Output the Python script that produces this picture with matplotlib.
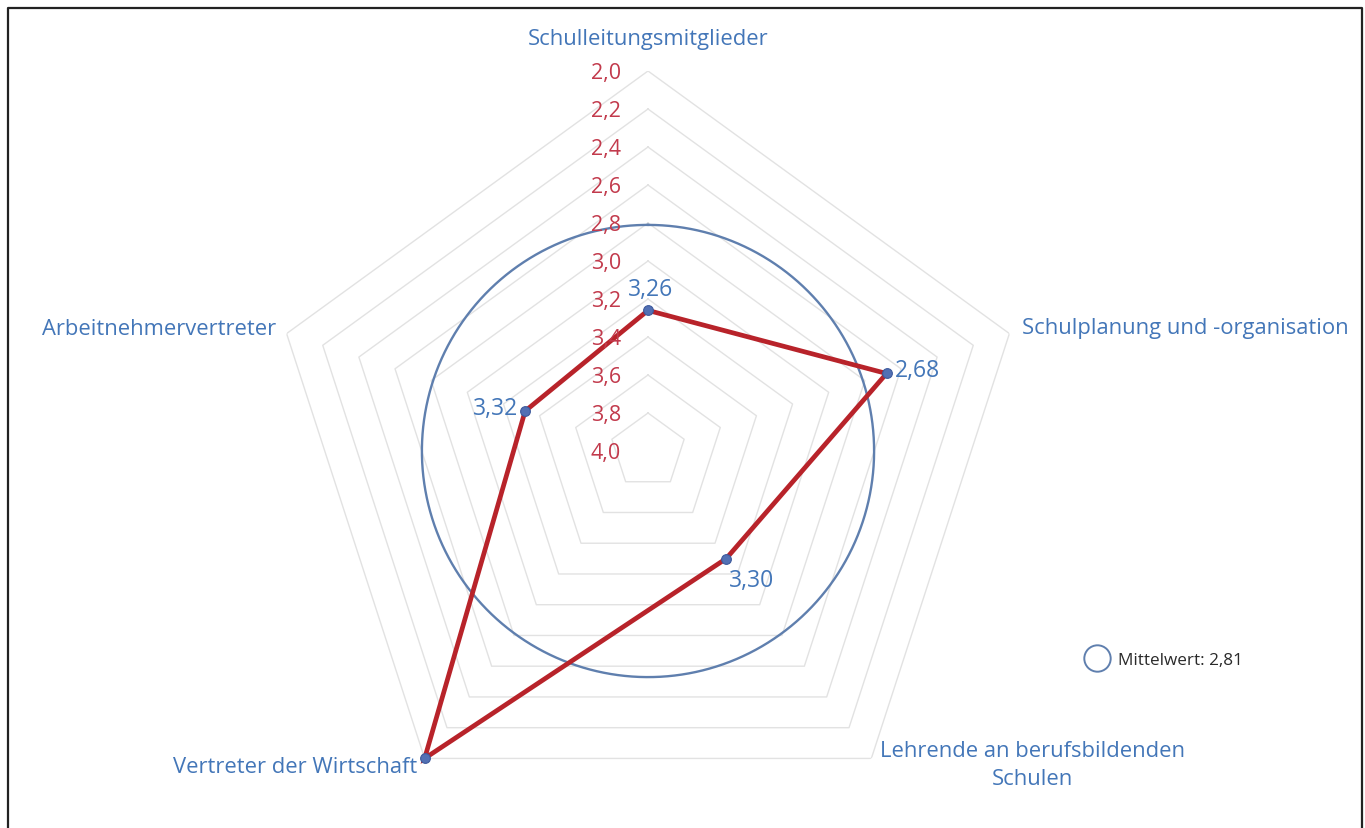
import numpy as np
import matplotlib
matplotlib.use("Agg")
import matplotlib.pyplot as plt
from matplotlib.lines import Line2D

plt.rcParams.update({
    "font.family": ["Open Sans", "DejaVu Sans"],
})

categories = ["Schulleitungsmitglieder", "Schulplanung und -organisation",
              "Lehrende an berufsbildenden\nSchulen", "Vertreter der Wirtschaft",
              "Arbeitnehmervertreter"]
values = [3.26, 2.68, 3.30, 2.00, 3.32]
value_labels = ["3,26", "2,68", "3,30", "", "3,32"]
mean_value = 2.81
mean_label = "Mittelwert: 2,81"
ring_values = [2.0, 2.2, 2.4, 2.6, 2.8, 3.0, 3.2, 3.4, 3.6, 3.8]
tick_labels = ["2,0", "2,2", "2,4", "2,6", "2,8", "3,0", "3,2", "3,4", "3,6", "3,8", "4,0"]
tick_values = [2.0, 2.2, 2.4, 2.6, 2.8, 3.0, 3.2, 3.4, 3.6, 3.8, 4.0]

blue_txt = "#4376b8"
red_txt = "#c23a4c"
line_red = "#b8232a"

W, H = 1365, 829
fig = plt.figure(figsize=(W / 100, H / 100), dpi=100)

cx, cy, R = 648, 452, 380
ax = fig.add_axes([(cx - R) / W, (H - cy - R) / H, 2 * R / W, 2 * R / H], projection="polar")
ax.set_theta_offset(np.pi / 2)
ax.set_theta_direction(-1)
ax.set_ylim(4.0, 2.0)
ax.grid(False)
ax.set_xticks([])
ax.set_yticks([])
ax.spines["polar"].set_visible(False)
ax.patch.set_alpha(0)

n = len(categories)
theta = np.linspace(0, 2 * np.pi, n, endpoint=False)
closed = np.append(theta, theta[0])

# pentagon grid
for rv in ring_values:
    ax.plot(closed, [rv] * (n + 1), color="#e2e2e2", lw=1.0, zorder=1)

# mean circle
tc = np.linspace(0, 2 * np.pi, 400)
ax.plot(tc, [mean_value] * len(tc), color="#5f7fae", lw=1.7, zorder=2)

# data line
ax.plot(closed, values + [values[0]], color=line_red, lw=3.4, zorder=3,
        solid_joinstyle="miter", clip_on=False)
ax.plot(theta, values, "o", ms=7, mfc="#5270b4", mec="#3d5a9c", mew=0.8,
        zorder=4, clip_on=False)

# scale labels
for tv, tl in zip(tick_values, tick_labels):
    ax.annotate(tl, (0, tv), xytext=(-27, -2), textcoords="offset pixels",
                ha="right", va="center", color=red_txt, fontsize=15.5,
                annotation_clip=False, zorder=5)

# category labels
cat_off = [(0, 32, "center"), (13, 6, "left"), (9, -6, "left"),
           (-7, -8, "right"), (-10, 5, "right")]
for t, lab, (dx, dy, ha) in zip(theta, categories, cat_off):
    ax.annotate(lab, (t, 2.0), xytext=(dx, dy), textcoords="offset pixels",
                ha=ha, va="center", multialignment="center", color=blue_txt,
                fontsize=15.8, linespacing=1.45, annotation_clip=False)

# value labels
val_off = [(3, 21, "center"), (8, 3, "left"), (25, -21, "center"),
           (0, 0, "center"), (-7, 3, "right")]
for t, v, lab, (dx, dy, ha) in zip(theta, values, value_labels, val_off):
    if lab:
        ax.annotate(lab, (t, v), xytext=(dx, dy), textcoords="offset pixels",
                    ha=ha, va="center", color=blue_txt, fontsize=16.5,
                    annotation_clip=False, zorder=6)

handle = Line2D([], [], marker="o", ls="none", ms=19, mfc="none", mec="#5f7fae", mew=1.4)
fig.legend([handle], [mean_label], loc="center left",
           bbox_to_anchor=(1065 / W, (H - 661) / H), frameon=False,
           fontsize=12.3, handletextpad=0.2, labelcolor="#2a2a2a")

# outer frame
fig.add_artist(Line2D([8 / W, 8 / W, 1362 / W, 1362 / W],
                      [0, (H - 9) / H, (H - 9) / H, 0],
                      color="#222222", lw=1.6, transform=fig.transFigure))

fig.savefig("out.png", dpi=100, facecolor="white")
